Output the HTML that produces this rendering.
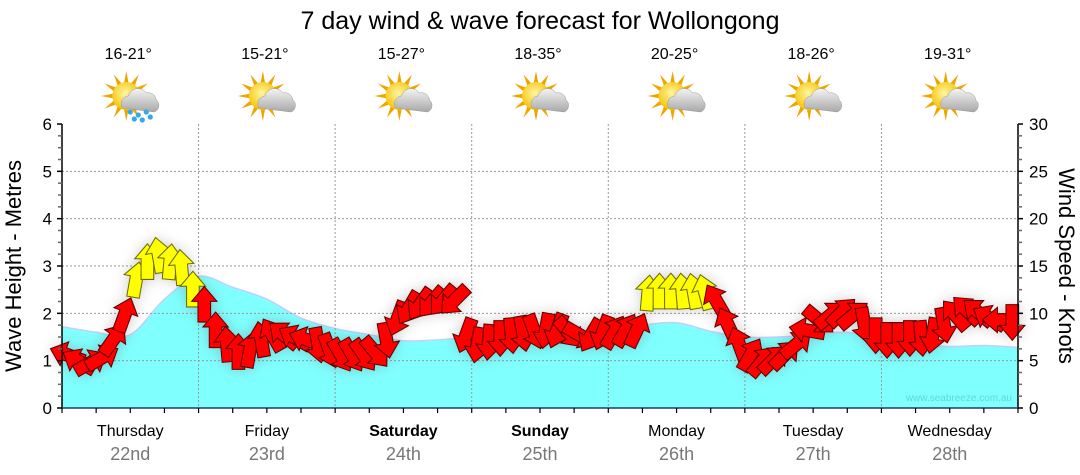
<!DOCTYPE html>
<html><head><meta charset="utf-8"><style>
html,body{margin:0;padding:0;background:#fff;}
svg{display:block;font-family:"Liberation Sans",Arial,sans-serif;}
</style></head><body>
<svg id="chart" width="1080" height="475" viewBox="0 0 1080 475" xmlns="http://www.w3.org/2000/svg">
<defs>
<radialGradient id="sunG" cx="0.45" cy="0.4" r="0.6"><stop offset="0" stop-color="#fff6a0"/><stop offset="1" stop-color="#f5c000"/></radialGradient>
<linearGradient id="cloudG" x1="0" y1="0" x2="0" y2="1"><stop offset="0" stop-color="#f4f4f4"/><stop offset="1" stop-color="#a8a8a8"/></linearGradient>
<filter id="shadow" x="-20%" y="-20%" width="140%" height="160%"><feGaussianBlur stdDeviation="7"/></filter>
</defs>
<text x="540" y="29" font-size="25" text-anchor="middle" fill="#000">7 day wind &amp; wave forecast for Wollongong</text>
<g id="topIcons"></g>
<rect x="62" y="124" width="956" height="284" fill="#fff"/>
<g id="wave"></g>
<g id="grid"></g>
<g id="shadowLayer" filter="url(#shadow)" opacity="0.35"></g>
<g id="arrows"></g>
<g id="axes"></g>
<text x="1012" y="401" font-size="10" text-anchor="end" fill="#5fd6dc">www.seabreeze.com.au</text>
<text transform="translate(21,266) rotate(-90)" font-size="22" text-anchor="middle" fill="#000">Wave Height - Metres</text>
<text transform="translate(1059,266) rotate(90)" font-size="22" text-anchor="middle" fill="#000">Wind Speed - Knots</text>
</svg>
<script>
const days = ["Thursday","Friday","Saturday","Sunday","Monday","Tuesday","Wednesday"];
const dates = ["22nd","23rd","24th","25th","26th","27th","28th"];
const boldDays = [false,false,true,true,false,false,false];
const temps = ["16-21°","15-21°","15-27°","18-35°","20-25°","18-26°","19-31°"];
const rainy = [true,false,false,false,false,false,false];
const leftTicks = [0,1,2,3,4,5,6];
const rightTicks = [0,5,10,15,20,25,30];
// wave height, 6-hourly (29 points)
const waveHeights = [1.72,1.6,1.55,2.3,2.78,2.55,2.3,1.9,1.68,1.55,1.42,1.44,1.5,1.55,1.58,1.6,1.62,1.75,1.8,1.62,1.5,1.5,1.55,1.6,1.45,1.35,1.3,1.32,1.28];
// wind speed knots, 2-hourly (84 points)
const windSpeeds = [
5.6,4.9,4.8,5.3,7.2,9.8,13.5,15.4,16.1,15.4,14.8,12.5,
10.9,8.2,6.7,5.9,6.1,7.2,7.7,7.7,7.4,7.2,6.7,6.1,
5.6,5.6,5.6,5.9,7.2,9.5,10.6,11.0,11.2,11.4,11.4,7.7,
6.7,7.0,7.4,7.7,7.9,8.1,8.2,8.2,8.0,7.7,7.7,8.0,
8.0,8.2,8.2,12.1,12.3,12.3,12.3,12.3,12.2,11.3,8.8,6.7,
5.6,4.9,5.1,5.6,6.7,8.2,9.3,9.8,10.1,9.8,8.8,7.7,
7.2,7.2,7.4,7.4,7.7,8.8,9.8,10.3,10.1,9.5,9.3,9.1];
// arrow heading (degrees clockwise from up)
const windDirs = [
-70,-60,60,60,35,20,10,0,-10,5,-5,0,
0,0,-5,0,10,-10,-30,-50,-60,-70,170,160,
150,150,145,140,170,200,210,215,220,220,225,200,
190,185,180,175,170,160,190,200,140,120,210,200,
30,30,25,5,0,0,-5,-10,-15,-30,-25,-20,
30,40,45,45,50,-80,130,50,45,50,170,180,
180,180,180,175,190,170,-40,-45,-50,-60,-90,180];

const NS="http://www.w3.org/2000/svg";
const X0=62,X1=1018,Y0=408,Y1=124,HOURS=168;
const xH=h=>X0+(X1-X0)*h/HOURS;
const yM=m=>Y0-(Y0-Y1)*m/6;
const yK=k=>Y0-(Y0-Y1)*k/30;
function mk(tag,attrs,parent){const e=document.createElementNS(NS,tag);for(const k in attrs)e.setAttribute(k,attrs[k]);parent.appendChild(e);return e;}
const G=id=>document.getElementById(id);

// grid
const gridG=G('grid');
for(let m=1;m<=5;m++){const l=mk('line',{x1:X0,x2:X1,y1:yM(m),y2:yM(m),stroke:'#999','stroke-dasharray':'2,2','stroke-width':1},gridG);

}
for(let dd=1;dd<7;dd++){const l=mk('line',{x1:xH(dd*24),x2:xH(dd*24),y1:Y1,y2:Y0,stroke:'#999','stroke-dasharray':'2,2','stroke-width':1},gridG);

}

// wave area (catmull-rom)
const pts=waveHeights.map((v,i)=>[xH(i*6),yM(v)]);
let pd='M'+pts[0][0]+','+pts[0][1];
for(let i=0;i<pts.length-1;i++){const p0=pts[Math.max(0,i-1)],p1=pts[i],p2=pts[i+1],p3=pts[Math.min(pts.length-1,i+2)];
pd+=` C${p1[0]+(p2[0]-p0[0])/6},${p1[1]+(p2[1]-p0[1])/6} ${p2[0]-(p3[0]-p1[0])/6},${p2[1]-(p3[1]-p1[1])/6} ${p2[0]},${p2[1]}`;}
const area=mk('path',{d:pd+` L${X1},${Y0} L${X0},${Y0} Z`,fill:'#80ffff'},G('wave'));


const wl=mk('path',{d:pd,fill:'none',stroke:'#c0d0ff','stroke-width':1.5},G('wave'));



// arrows
const arrowD='M0,-16 L11,-3 L5.5,-3 L5.5,15 L-5.5,15 L-5.5,-3 L-11,-3 Z';
windSpeeds.forEach((k,i)=>{
  const x=xH(i*2+1),y=yK(k),yellow=k>=12;
  const tr=`translate(${x.toFixed(1)},${y.toFixed(1)}) rotate(${windDirs[i]}) scale(1.15)`;
  const s=mk('path',{d:arrowD,transform:tr,fill:'#666'},G('shadowLayer'));
  
  
  const a=mk('path',{d:arrowD,transform:tr,fill:yellow?'#ffff00':'#ff0000',stroke:yellow?'#6b6b00':'#5a0000','stroke-width':0.9},G('arrows'));
  
  
});

// axes
const axG=G('axes');
const axc='#1c3f66';
mk('line',{x1:X0,x2:X0,y1:Y1,y2:Y0,stroke:'#000','stroke-width':1.5},axG);
mk('line',{x1:X1,x2:X1,y1:Y1,y2:Y0,stroke:'#000','stroke-width':1.5},axG);
const bx=mk('line',{x1:X0-1,x2:X1+1,y1:Y0,y2:Y0,stroke:axc,'stroke-width':1.5},axG);


for(let i=0;i<=24;i++){const m=i/4,y=yM(m),maj=i%4==0;
 mk('line',{x1:X0-(maj?5:4),x2:X0,y1:y,y2:y,stroke:maj?'#000':'#666','stroke-width':1.5},axG);
 mk('line',{x1:X1,x2:X1+(maj?5:4),y1:y,y2:y,stroke:maj?'#000':'#666','stroke-width':1.5},axG);}
leftTicks.forEach(m=>{const t=mk('text',{x:52,y:yM(m)+6,'font-size':17,'text-anchor':'end',fill:'#000'},axG);t.textContent=m;
 
 });
rightTicks.forEach(k=>{const t=mk('text',{x:1029,y:yK(k)+6,'font-size':17,'text-anchor':'start',fill:'#000'},axG);t.textContent=k;
 
 });
for(let h=0;h<=168;h+=6){mk('line',{x1:xH(h),x2:xH(h),y1:Y0,y2:Y0+5,stroke:'#000','stroke-width':1.2},axG);}
days.forEach((dn,i)=>{const cx=xH(i*24+12);
 const t=mk('text',{x:cx,y:436,'font-size':16,'text-anchor':'middle',fill:'#000','font-weight':boldDays[i]?'bold':'normal'},axG);t.textContent=dn;
 
 
 const t2=mk('text',{x:cx,y:460,'font-size':18,'text-anchor':'middle',fill:'#777'},axG);t2.textContent=dates[i];
 
 });

// top: temps and weather icons
const topG=G('topIcons');
temps.forEach((tt,i)=>{const cx=xH(i*24+12);
 const t=mk('text',{x:cx-2,y:59,'font-size':16,'text-anchor':'middle',fill:'#000'},topG);t.textContent=tt;
 
 
 const g=mk('g',{transform:`translate(${cx-4},96)`},topG);
 
 
 for(let r=0;r<12;r++){const a=r*30*Math.PI/180;
  mk('path',{d:`M${Math.cos(a-0.18)*13},${Math.sin(a-0.18)*13} L${Math.cos(a)*25},${Math.sin(a)*25} L${Math.cos(a+0.18)*13},${Math.sin(a+0.18)*13} Z`,fill:'#f0a400'},g);}
 mk('circle',{cx:0,cy:0,r:14,fill:'url(#sunG)'},g);
 mk('path',{d:'M-4,12 a8,8 0 0 1 6,-12 a10,10 0 0 1 18,-3 a8,8 0 0 1 10,7 a7,7 0 0 1 -2,12 Z',fill:'url(#cloudG)',stroke:'#999','stroke-width':0.5},g);
 if(rainy[i]){[[4,16],[12,19],[20,16],[24,21],[8,23],[16,24]].forEach(p=>mk('circle',{cx:p[0],cy:p[1],r:2.6,fill:'#35a8e8'},g));}
});
</script>
</body></html>
